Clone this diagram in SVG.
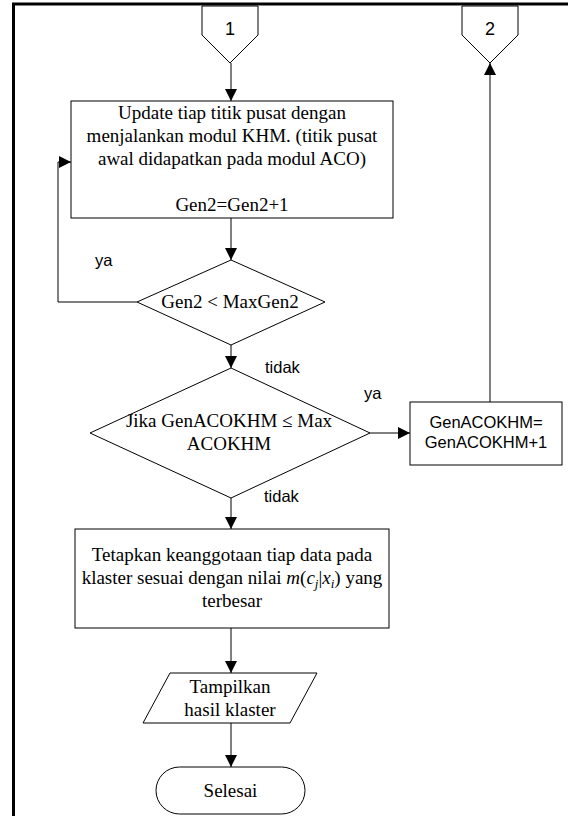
<svg xmlns="http://www.w3.org/2000/svg" width="568" height="816" viewBox="0 0 568 816">
<style>
.s{fill:#fff;stroke:#000;stroke-width:1}
.c{fill:none;stroke:#000;stroke-width:1}
.t{font-family:"Liberation Serif","Times New Roman",serif;font-size:19px;fill:#000;text-anchor:middle}
.a{font-family:"Liberation Sans",Arial,sans-serif;font-size:16.5px;fill:#000}
.am{text-anchor:middle}
.i{font-style:italic}
</style>
<defs>
<marker id="ar" markerUnits="userSpaceOnUse" markerWidth="12" markerHeight="12" viewBox="0 0 10 10" refX="10" refY="5" orient="auto">
<path d="M0,0 L10,5 L0,10 z" fill="#000"/>
</marker>
</defs>
<rect width="568" height="816" fill="#fff"/>
<g id="frame">
<path d="M13.5,816 V4 H568" fill="none" stroke="#000" stroke-width="3"/>
</g>
<g id="connectors">
<line class="c" x1="231" y1="63" x2="231" y2="101" marker-end="url(#ar)"/>
<line class="c" x1="231" y1="218" x2="231" y2="260" marker-end="url(#ar)"/>
<polyline class="c" points="137,302 58,302 58,162 71,162" marker-end="url(#ar)"/>
<line class="c" x1="231" y1="345" x2="231" y2="368" marker-end="url(#ar)"/>
<line class="c" x1="370" y1="433" x2="410" y2="433" marker-end="url(#ar)"/>
<line class="c" x1="490" y1="402" x2="490" y2="63" marker-end="url(#ar)"/>
<line class="c" x1="231" y1="498" x2="231" y2="529" marker-end="url(#ar)"/>
<line class="c" x1="231" y1="628" x2="231" y2="673" marker-end="url(#ar)"/>
<line class="c" x1="231" y1="723" x2="231" y2="767" marker-end="url(#ar)"/>
<text class="a" x="95" y="266">ya</text>
<text class="a" x="265" y="373">tidak</text>
<text class="a" x="364" y="399">ya</text>
<text class="a" x="264" y="502">tidak</text>
</g>
<g id="offpage1">
<polygon class="s" points="202,6 258,6 258,35 230,63 202,35"/>
<text class="a am" x="230" y="35" style="font-size:18px">1</text>
</g>
<g id="offpage2">
<polygon class="s" points="462,6 518,6 518,35 490,63 462,35"/>
<text class="a am" x="490" y="35" style="font-size:18px">2</text>
</g>
<g id="update">
<rect class="s" x="71" y="101" width="322" height="117"/>
<text class="t" x="232" y="119">Update tiap titik pusat dengan</text>
<text class="t" x="232" y="142">menjalankan modul KHM. (titik pusat</text>
<text class="t" x="232" y="165">awal didapatkan pada modul ACO)</text>
<text class="t" x="232" y="211">Gen2=Gen2+1</text>
</g>
<g id="cond1">
<polygon class="s" points="231,260 325,302 231,345 137,302"/>
<text class="t" x="230" y="308">Gen2 &lt; MaxGen2</text>
</g>
<g id="cond2">
<polygon class="s" points="231,368 370,433 231,498 90,433"/>
<text class="t" x="229" y="427">Jika GenACOKHM ≤ Max</text>
<text class="t" x="229" y="450">ACOKHM</text>
</g>
<g id="increment">
<rect class="s" x="410" y="402" width="152" height="63"/>
<text class="a am" x="486" y="428">GenACOKHM=</text>
<text class="a am" x="486" y="448">GenACOKHM+1</text>
</g>
<g id="assign">
<rect class="s" x="75" y="529" width="314" height="99"/>
<text class="t" x="232" y="561">Tetapkan keanggotaan tiap data pada</text>
<text class="t" x="232" y="584">klaster sesuai dengan nilai <tspan class="i">m</tspan>(<tspan class="i">c</tspan><tspan class="i" dy="4" style="font-size:13px">j</tspan><tspan dy="-4">|</tspan><tspan class="i">x</tspan><tspan class="i" dy="4" style="font-size:13px">i</tspan><tspan dy="-4">) yang</tspan></text>
<text class="t" x="232" y="607">terbesar</text>
</g>
<g id="output">
<polygon class="s" points="170,673 317,673 290,723 143,723"/>
<text class="t" x="230" y="693">Tampilkan</text>
<text class="t" x="230" y="716">hasil klaster</text>
</g>
<g id="end">
<rect class="s" x="156" y="767" width="149" height="47" rx="23.5" ry="23.5"/>
<text class="t" x="230.5" y="797">Selesai</text>
</g>
</svg>
